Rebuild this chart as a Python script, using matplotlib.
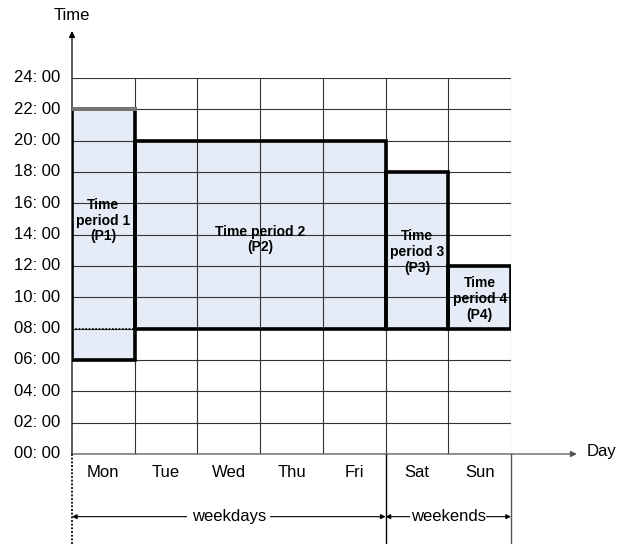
import matplotlib.pyplot as plt
from matplotlib.patches import Rectangle

plt.rcParams['font.family'] = ['Liberation Sans', 'DejaVu Sans']

days = ['Mon', 'Tue', 'Wed', 'Thu', 'Fri', 'Sat', 'Sun']
hour_ticks = list(range(0, 25, 2))
hour_labels = [f'{h:02d}: 00' for h in hour_ticks]

# periods: (start day, end day, start hour, end hour, label)
period_start_day = [0, 1, 5, 6]
period_end_day = [1, 5, 6, 7]
period_start_hour = [6, 8, 8, 8]
period_end_hour = [22, 20, 18, 12]
period_labels = ['Time\nperiod 1\n(P1)', 'Time period 2\n(P2)',
                 'Time\nperiod 3\n(P3)', 'Time\nperiod 4\n(P4)']
label_y = [14.9, 13.7, 12.9, 9.9]

W, H = 618, 544
fig = plt.figure(figsize=(W / 100, H / 100), dpi=100)
ax = fig.add_axes([72 / W, (H - 454) / H, (511 - 72) / W, (454 - 78) / H])
ax.set_xlim(0, 7)
ax.set_ylim(0, 24)
ax.axis('off')

fill = '#E6ECF7'
for s, e, h0, h1 in zip(period_start_day, period_end_day, period_start_hour, period_end_hour):
    ax.add_patch(Rectangle((s, h0), e - s, h1 - h0, facecolor=fill, edgecolor='none', zorder=1))

# grid
for h in hour_ticks:
    ax.plot([0, 7], [h, h], color='#333333', lw=0.8, zorder=2)
for d in range(1, 8):
    ax.plot([d, d], [0, 24], color='#333333', lw=0.8, zorder=2)

# borders of the periods
for s, e, h0, h1 in zip(period_start_day, period_end_day, period_start_hour, period_end_hour):
    ax.add_patch(Rectangle((s, h0), e - s, h1 - h0, facecolor='none', edgecolor='black',
                           lw=2.6, zorder=3, joinstyle='miter'))
ax.plot([0, 1], [22, 22], color='#777777', lw=2.8, zorder=4)
ax.plot([0, 1], [8, 8], color='black', lw=1.2, ls=(0, (1, 1)), zorder=4)

for s, e, y, t in zip(period_start_day, period_end_day, label_y, period_labels):
    ax.text((s + e) / 2, y, t, ha='center', va='center', fontsize=10,
            fontweight='bold', linespacing=1.15, zorder=5)

# y labels
for h, lab in zip(hour_ticks, hour_labels):
    ax.text(-0.19, h, lab, ha='right', va='center', fontsize=12, clip_on=False)

# x labels
for i, d in enumerate(days):
    ax.text(i + 0.5, -1.2, d, ha='center', va='center', fontsize=12, clip_on=False)

# axes with arrows
ax.annotate('', xy=(0, 27.0), xytext=(0, 0),
            arrowprops=dict(arrowstyle='-|>', color='black', lw=0.9, mutation_scale=9,
                            shrinkA=0, shrinkB=0), annotation_clip=False)
ax.text(0.0, 28.0, 'Time', ha='center', va='center', fontsize=12, clip_on=False)
ax.annotate('', xy=(8.05, 0), xytext=(0, 0),
            arrowprops=dict(arrowstyle='-|>', color='#555555', lw=0.9, mutation_scale=9,
                            shrinkA=0, shrinkB=0), annotation_clip=False)
ax.text(8.2, 0.15, 'Day', ha='left', va='center', fontsize=12, clip_on=False)

# lower separators
ax.plot([0, 0], [0, -5.8], color='black', lw=1.2, ls=(0, (1.2, 1)), clip_on=False)
ax.plot([5, 5], [0, -5.8], color='black', lw=1.0, clip_on=False)
ax.plot([7, 7], [0, -5.8], color='#555555', lw=1.0, clip_on=False)

# weekdays / weekends spans
for a, b, t in [(0, 5, 'weekdays'), (5, 7, 'weekends')]:
    ax.annotate('', xy=(a, -4.0), xytext=(b, -4.0),
                arrowprops=dict(arrowstyle='<|-|>', color='black', lw=0.8, mutation_scale=7,
                                shrinkA=0, shrinkB=0), annotation_clip=False)
    ax.text((a + b) / 2, -4.0, t, ha='center', va='center', fontsize=12, clip_on=False,
            bbox=dict(facecolor='white', edgecolor='none', pad=3 if t == 'weekdays' else 0.2))

fig.savefig('out.png', dpi=100)
